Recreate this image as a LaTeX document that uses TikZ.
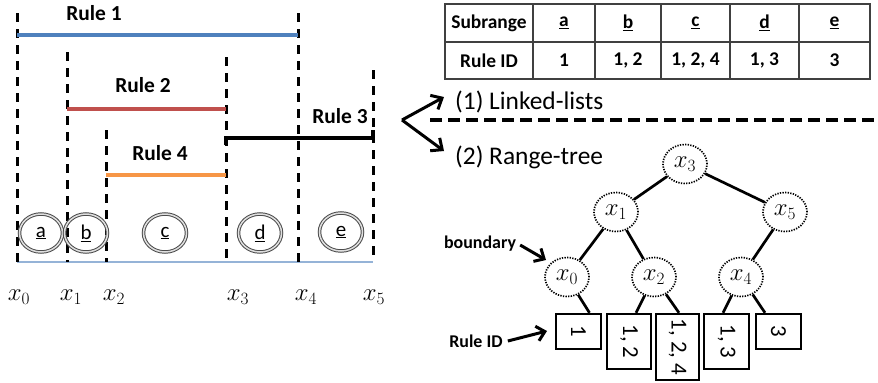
\documentclass[tikz,border=0pt]{standalone}
\usepackage[no-math]{fontspec}
\setmainfont{Carlito}
\usetikzlibrary{shapes.geometric,arrows.meta,calc}
\definecolor{rblue}{HTML}{4F81BD}
\definecolor{rred}{HTML}{C0504D}
\definecolor{rorange}{HTML}{F79646}
\definecolor{rbase}{HTML}{95B3D7}
\begin{document}
\begin{tikzpicture}[x=1bp,y=-1bp,
  vdash/.style={line width=3bp, dash pattern=on 9bp off 7bp},
  rulelab/.style={font=\fontsize{21.5}{24}\selectfont\bfseries, inner sep=0},
  rulebar/.style={line width=3.4bp},
  seg/.style={ellipse, draw=gray!60!black, line width=1bp, double=gray!25, double distance=1.5bp,
     minimum width=43bp, minimum height=38bp, inner sep=0, font=\fontsize{21}{24}\selectfont},
  xlab/.style={font=\fontsize{27}{30}\selectfont, inner sep=0},
  cell/.style={draw=black!75, line width=1.4bp, inner sep=0, font=\fontsize{19.5}{22}\selectfont\bfseries},
  tnode/.style={ellipse, draw, dash pattern=on 1.3bp off 1.3bp, line width=1.7bp,
     minimum width=44bp, minimum height=39bp, inner sep=0, font=\fontsize{26}{28}\selectfont},
  tedge/.style={line width=2.7bp},
  leaf/.style={draw, line width=2.4bp, inner sep=0, font=\fontsize{23}{26}\selectfont},
  bigarrow/.style={line width=3bp, -{Straight Barb[length=9bp,width=16bp]}},
  smallarrow/.style={line width=3bp, -{Straight Barb[length=8bp,width=15bp]}},
  sidelab/.style={font=\fontsize{18}{20}\selectfont\bfseries, inner sep=0},
  headlab/.style={font=\fontsize{25.5}{28}\selectfont, inner sep=0, anchor=west}
]
\useasboundingbox (0,0) rectangle (878,382);

% ---------- left: rules ----------
\coordinate (t0) at (17,13);  \coordinate (b0) at (17,262);
\coordinate (t1) at (67,52);  \coordinate (b1) at (67,262);
\coordinate (t2) at (106,130); \coordinate (b2) at (106,262);
\coordinate (t3) at (226,57); \coordinate (b3) at (226,262);
\coordinate (t4) at (298,13); \coordinate (b4) at (298,262);
\coordinate (t5) at (373,70); \coordinate (b5) at (373,262);

\draw[rbase, line width=1.8bp] (b0) -- (b5);
\foreach \i in {0,...,5} { \draw[vdash] (t\i) -- (b\i); }

\coordinate (r1a) at (17,35);  \coordinate (r1b) at (298,35);
\coordinate (r2a) at (67,109); \coordinate (r2b) at (226,109);
\coordinate (r4a) at (106,175); \coordinate (r4b) at (226,175);
\coordinate (r3a) at (226,145); \coordinate (r3c) at (226,138);
\coordinate (r3d) at (373,138); \coordinate (r3b) at (373,130);

\draw[rulebar, rblue] (r1a) -- (r1b);
\draw[rulebar, rred] (r2a) -- (r2b);
\draw[rulebar, rorange] (r4a) -- (r4b);
\draw[rulebar, black] (r3a) -- (r3c) -- (r3d) -- (r3b);

\node[rulelab] (lr1) at (94,13) {Rule 1};
\node[rulelab] (lr2) at (143,85) {Rule 2};
\node[rulelab] (lr3) at (340,116) {Rule 3};
\node[rulelab] (lr4) at (160,153) {Rule 4};

\node[seg] (sa) at (41,233) {\underline{a}};
\node[seg] (sb) at (86,233) {\underline{b}};
\node[seg] (sc) at (165,233) {\underline{c}};
\node[seg] (sd) at (260,233) {\underline{d}};
\node[seg] (se) at (341,232) {\underline{e}};

\node[xlab] (lx0) at (19,297) {$x_0$};
\node[xlab] (lx1) at (71,297) {$x_1$};
\node[xlab] (lx2) at (114,297) {$x_2$};
\node[xlab] (lx3) at (238,297) {$x_3$};
\node[xlab] (lx4) at (306,297) {$x_4$};
\node[xlab] (lx5) at (374,297) {$x_5$};

% ---------- table ----------
\node[cell, minimum width=88bp, minimum height=38bp] (h0) at (489,23) {Subrange};
\node[cell, minimum width=62bp, minimum height=38bp] (h1) at (564,23) {\underline{a}};
\node[cell, minimum width=66bp, minimum height=38bp] (h2) at (628,23) {\underline{b}};
\node[cell, minimum width=69bp, minimum height=38bp] (h3) at (695.5,23) {\underline{c}};
\node[cell, minimum width=69bp, minimum height=38bp] (h4) at (764.5,23) {\underline{d}};
\node[cell, minimum width=71bp, minimum height=38bp] (h5) at (834.5,23) {\underline{e}};
\node[cell, minimum width=88bp, minimum height=37bp] (c0) at (489,60.5) {Rule ID};
\node[cell, minimum width=62bp, minimum height=37bp] (c1) at (564,60.5) {1};
\node[cell, minimum width=66bp, minimum height=37bp] (c2) at (628,60.5) {1, 2};
\node[cell, minimum width=69bp, minimum height=37bp] (c3) at (695.5,60.5) {1, 2, 4};
\node[cell, minimum width=69bp, minimum height=37bp] (c4) at (764.5,60.5) {1, 3};
\node[cell, minimum width=71bp, minimum height=37bp] (c5) at (834.5,60.5) {3};

% ---------- fork and headings ----------
\coordinate (fork) at (402,120);
\coordinate (up) at (444,97);
\coordinate (down) at (444,151);
\draw[bigarrow] (fork) -- (up);
\draw[bigarrow] (fork) -- (down);
\node[headlab] (ll) at (455,102) {(1) Linked-lists};
\node[headlab] (rt) at (455,157) {(2) Range-tree};
\coordinate (sepa) at (430,120);
\coordinate (sepb) at (878,120);
\draw[line width=3.2bp, dash pattern=on 12bp off 6bp] (sepa) -- (sepb);

% ---------- tree ----------
\node[tnode] (x3) at (685,164) {$x_3$};
\node[tnode] (x1) at (616,212) {$x_1$};
\node[tnode] (x5) at (785,212) {$x_5$};
\node[tnode] (x0) at (567,277) {$x_0$};
\node[tnode] (x2) at (654,277) {$x_2$};
\node[tnode] (x4) at (741,277) {$x_4$};

\node[leaf, minimum width=45bp, minimum height=35bp] (k1) at (578.5,331.5) {\rotatebox{-90}{1}};
\node[leaf, minimum width=44bp, minimum height=55bp] (k12) at (629,341.5) {\rotatebox{-90}{1, 2}};
\node[leaf, minimum width=43bp, minimum height=66bp] (k124) at (677.5,347) {\rotatebox{-90}{1, 2, 4}};
\node[leaf, minimum width=45bp, minimum height=55bp] (k13) at (726.5,341.5) {\rotatebox{-90}{1, 3}};
\node[leaf, minimum width=45bp, minimum height=35bp] (k3) at (778.5,331.5) {\rotatebox{-90}{3}};

\draw[tedge] (x3) -- (x1);
\draw[tedge] (x3) -- (x5);
\draw[tedge] (x1) -- (x0);
\draw[tedge] (x1) -- (x2);
\draw[tedge] (x5) -- (x4);
\draw[tedge] (x0) -- ([xshift=11bp]k1.north);
\draw[tedge] (x2) -- ([xshift=7bp]k12.north);
\draw[tedge] (x2) -- ([xshift=1.5bp]k124.north);
\draw[tedge] (x4) -- ([xshift=-3.5bp]k13.north);
\draw[tedge] (x4) -- ([xshift=-13.5bp]k3.north);

\node[sidelab] (bd) at (480,244) {boundary};
\node[sidelab] (rid) at (476,341) {Rule ID};
\coordinate (bdtip) at (546,260);
\coordinate (ridtip) at (547,331);
\draw[smallarrow] ([xshift=4bp,yshift=-1bp]bd.east) -- (bdtip);
\draw[smallarrow] ([xshift=5bp]rid.east) -- (ridtip);
\end{tikzpicture}
\end{document}
